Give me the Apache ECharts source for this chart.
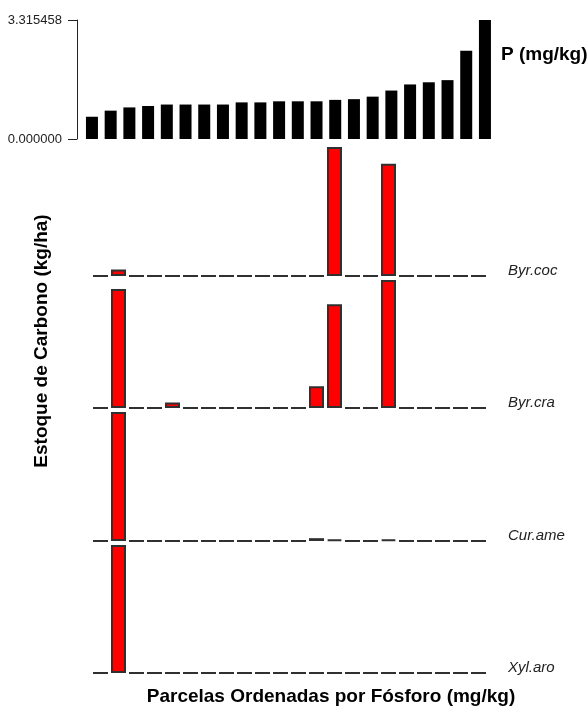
<!DOCTYPE html>
<html>
<head>
<meta charset="utf-8">
<script src="https://cdn.jsdelivr.net/npm/echarts@6/dist/echarts.min.js"></script>
<style>
  html, body { margin: 0; padding: 0; background: #fff; }
  #chart { width: 588px; height: 711px; }
</style>
</head>
<body>
<div id="chart"></div>
<script>
// Plots ordered by soil phosphorus
const plots = ['P01','P02','P03','P04','P05','P06','P07','P08','P09','P10','P11',
               'P12','P13','P14','P15','P16','P17','P18','P19','P20','P21','P22'];

// Phosphorus per plot (mg/kg)
const phosphorus = [0.62, 0.79, 0.88, 0.92, 0.96, 0.96, 0.96, 0.96, 1.02, 1.02, 1.05,
                    1.05, 1.05, 1.09, 1.11, 1.18, 1.35, 1.52, 1.58, 1.64, 2.46, 3.315458];
const pTicks = [0, 3.315458];

// Carbon stock per species and plot (relative, % of the species maximum)
const speciesNames = ['Byr.coc', 'Byr.cra', 'Cur.ame', 'Xyl.aro'];
const byrCoc = [0, 5, 0, 0, 0, 0, 0, 0, 0, 0, 0, 0, 0, 100, 0, 0, 87, 0, 0, 0, 0, 0];
const byrCra = [0, 93, 0, 0, 4.3, 0, 0, 0, 0, 0, 0, 0, 17, 81, 0, 0, 100, 0, 0, 0, 0, 0];
const curAme = [0, 100, 0, 0, 0, 0, 0, 0, 0, 0, 0, 0, 2.2, 1, 0, 0, 1, 0, 0, 0, 0, 0];
const xylAro = [0, 100, 0, 0, 0, 0, 0, 0, 0, 0, 0, 0, 0, 0, 0, 0, 0, 0, 0, 0, 0, 0];
const speciesData = [byrCoc, byrCra, curAme, xylAro];

const FONT = 'Liberation Sans, Arial, sans-serif';

// panel geometry
const topPanel = { left: 82.6, width: 411.7, top: 20, height: 119 };
const stripLeft = 91.5, stripWidth = 396;
const strips = [
  { top: 147, height: 129 },
  { top: 280, height: 128 },
  { top: 412, height: 129 },
  { top: 545, height: 128 }
];

const grid = [topPanel].concat(strips.map(s => ({ left: stripLeft, width: stripWidth, top: s.top, height: s.height })));

const xAxis = grid.map((g, i) => ({
  type: 'category', gridIndex: i, data: plots, show: false
}));

const yAxis = [{
  type: 'value', gridIndex: 0, min: pTicks[0], max: pTicks[1], interval: pTicks[1],
  offset: 5.6,
  axisLine: { show: true, lineStyle: { color: '#222', width: 1 } },
  axisTick: { show: true, length: 9, lineStyle: { color: '#222', width: 1 } },
  axisLabel: { show: true, margin: 15, fontFamily: FONT, fontSize: 13, color: '#222',
               formatter: v => v.toFixed(6) },
  splitLine: { show: false }
}].concat(speciesData.map((d, i) => ({
  type: 'value', gridIndex: i + 1, min: 0, max: Math.max(...d), show: false,
  splitLine: { show: false }
})));

const series = [{
  type: 'bar', xAxisIndex: 0, yAxisIndex: 0, data: phosphorus,
  barWidth: 12, itemStyle: { color: '#000' }, silent: true
}].concat(speciesData.map((d, i) => ({
  type: 'bar', xAxisIndex: i + 1, yAxisIndex: i + 1, data: d,
  barWidth: 15, silent: true,
  itemStyle: { color: '#ff0000', borderColor: '#303030', borderWidth: 2 }
})));

// species names at the right of each strip, just above its baseline
const speciesLabels = speciesNames.map((name, i) => ({
  type: 'text', x: 508, y: strips[i].top + strips[i].height - 5,
  style: { text: name, font: 'italic 15px ' + FONT, fill: '#222',
           align: 'left', verticalAlign: 'middle' }
}));

const chart = echarts.init(document.getElementById('chart'), null, { renderer: 'canvas' });
chart.setOption({
  animation: false,
  backgroundColor: '#fff',
  grid, xAxis, yAxis, series,
  graphic: speciesLabels.concat([
    { type: 'text', x: 501, y: 55,
      style: { text: 'P (mg/kg)', font: 'bold 19px ' + FONT, fill: '#000',
               align: 'left', verticalAlign: 'middle' } },
    { type: 'text', x: 331, y: 697,
      style: { text: 'Parcelas Ordenadas por Fósforo (mg/kg)', font: 'bold 19px ' + FONT, fill: '#000',
               align: 'center', verticalAlign: 'middle' } },
    { type: 'text', x: 42, y: 341, rotation: Math.PI / 2,
      style: { text: 'Estoque de Carbono (kg/ha)', font: 'bold 19px ' + FONT, fill: '#000',
               align: 'center', verticalAlign: 'middle' } }
  ])
});
</script>
</body>
</html>
